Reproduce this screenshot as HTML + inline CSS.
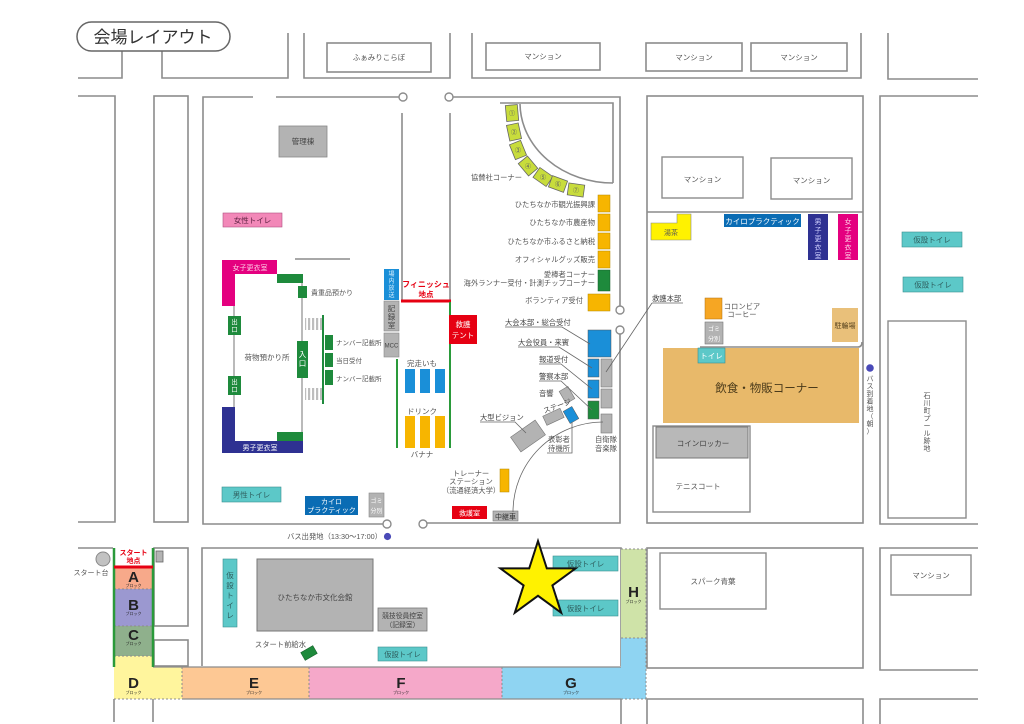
<!DOCTYPE html>
<html><head><meta charset="utf-8">
<style>
html,body{margin:0;padding:0;background:#fff;}
svg{display:block;}
text{font-family:"Liberation Sans","Noto Sans CJK JP",sans-serif;}
</style></head><body>
<svg width="1024" height="724" viewBox="0 0 1024 724" xmlns="http://www.w3.org/2000/svg">
<defs>
<pattern id="st" width="4" height="4" patternUnits="userSpaceOnUse"><rect width="2.2" height="4" fill="#bdbdbd"/></pattern>
</defs>
<rect width="1024" height="724" fill="#fff"/>

<!-- ===== roads / block outlines ===== -->
<g fill="none" stroke="#8c8c8c" stroke-width="1.6">
<path d="M78,78 H122 V51"/>
<path d="M162,51 V78 H288 V33"/>
<path d="M304,33 V78 H450 V33"/>
<rect x="327" y="43" width="104" height="29"/>
<path d="M472,33 V78 H861 V33"/>
<rect x="486" y="43" width="114" height="27"/>
<rect x="646" y="43" width="96" height="28"/>
<rect x="751" y="43" width="96" height="28"/>
<path d="M888,33 V79 H978"/>

<path d="M78,96 H115 V522 H78"/>
<rect x="154" y="96" width="34" height="426"/>
<path d="M253,97 H203 V524 H383"/>
<path d="M276,97 H399"/>
<path d="M453,97 H620 V306"/>
<path d="M620,334 V523 H427"/>
<path d="M402,113 V301"/>
<path d="M450,113 V302"/>
<path d="M500,103 H613 V183"/>
<path d="M520,104 A93,80 0 0 0 613,183"/>

<rect x="647" y="96" width="216" height="427"/>
<path d="M647,212 H863"/>
<path d="M978,96 H880 V524 H978"/>

<path d="M78,548 H113"/>
<rect x="154" y="548" width="34" height="78"/>
<rect x="154" y="640" width="34" height="26"/>
<path d="M202,666 V548 H621 V666"/>
<rect x="647" y="548" width="216" height="120"/>
<path d="M978,548 H880 V670 H978"/>
<path d="M114,699 V722 M153,699 V722 M621,699 V724 M647,724 V699 H863 V724 M880,724 V699 H978"/>

<path d="M700,347 H858 Q862,347 862,342"/>
</g>
<g fill="#fff" stroke="#8c8c8c" stroke-width="1.4">
<circle cx="403" cy="97" r="4"/><circle cx="449" cy="97" r="4"/>
<circle cx="620" cy="310" r="4"/><circle cx="620" cy="330" r="4"/>
<circle cx="387" cy="524" r="4"/><circle cx="423" cy="524" r="4"/>
</g>

<!-- ===== title ===== -->
<rect x="77" y="22" width="153" height="29" rx="14.5" fill="#fff" stroke="#666" stroke-width="1.5"/>
<text x="153" y="43" font-size="17" fill="#333" text-anchor="middle">会場レイアウト</text>

<g font-size="7.5" fill="#555" text-anchor="middle">
<text x="379" y="60">ふぁみりこらぼ</text>
<text x="543" y="59">マンション</text>
<text x="694" y="60">マンション</text>
<text x="799" y="60">マンション</text>
</g>

<!-- ===== left area ===== -->
<rect x="279" y="126" width="48" height="31" fill="#b3b3b3" stroke="#888" stroke-width="0.8"/>
<text x="303" y="144" font-size="7.5" fill="#444" text-anchor="middle">管理棟</text>
<rect x="223" y="213" width="59" height="14" fill="#f288b8" stroke="#b05080" stroke-width="0.6"/>
<text x="252.5" y="223" font-size="7.5" fill="#5a2040" text-anchor="middle">女性トイレ</text>

<line x1="295" y1="259" x2="350" y2="259" stroke="#8c8c8c" stroke-width="1.4"/>
<path d="M222,260 H277 V274 H235 V306 H222 Z" fill="#e4007f"/>
<text x="250" y="270" font-size="7" fill="#ffd0e8" text-anchor="middle">女子更衣室</text>
<rect x="277" y="274" width="26" height="9" fill="#1e8a3c"/>
<line x1="234" y1="306" x2="234" y2="407" stroke="#8c8c8c" stroke-width="1.2"/>
<line x1="302" y1="283" x2="302" y2="432" stroke="#8c8c8c" stroke-width="1.2"/>
<rect x="298" y="286" width="9" height="12" fill="#1e8a3c"/>
<text x="311" y="295" font-size="7" fill="#555">貴重品預かり</text>
<rect x="228" y="316" width="13" height="19" fill="#1e8a3c"/>
<text x="234.5" y="324" font-size="6.5" fill="#fff" text-anchor="middle"><tspan x="234.5">出</tspan><tspan x="234.5" dy="7.5">口</tspan></text>
<rect x="228" y="376" width="13" height="19" fill="#1e8a3c"/>
<text x="234.5" y="384" font-size="6.5" fill="#fff" text-anchor="middle"><tspan x="234.5">出</tspan><tspan x="234.5" dy="7.5">口</tspan></text>
<text x="267" y="360" font-size="7.5" fill="#555" text-anchor="middle">荷物預かり所</text>
<rect x="297" y="341" width="11" height="37" fill="#1e8a3c"/>
<text x="302.5" y="357" font-size="7.5" fill="#fff" text-anchor="middle"><tspan x="302.5">入</tspan><tspan x="302.5" dy="9">口</tspan></text>
<rect x="305" y="318" width="17" height="12" fill="url(#st)"/>
<rect x="305" y="388" width="17" height="12" fill="url(#st)"/>
<line x1="323" y1="315" x2="323" y2="404" stroke="#1e8a3c" stroke-width="2"/>
<rect x="325" y="335" width="8" height="15" fill="#1e8a3c"/>
<rect x="325" y="353" width="8" height="14" fill="#1e8a3c"/>
<rect x="325" y="370" width="8" height="15" fill="#1e8a3c"/>
<g font-size="6.5" fill="#555">
<text x="336" y="345">ナンバー記載所</text>
<text x="336" y="363">当日受付</text>
<text x="336" y="381">ナンバー記載所</text>
</g>
<path d="M222,407 H235 V441 H303 V453 H222 Z" fill="#2e3192"/>
<rect x="277" y="432" width="26" height="9" fill="#1e8a3c"/>
<text x="260" y="450" font-size="7" fill="#fff" text-anchor="middle">男子更衣室</text>

<rect x="222" y="487" width="59" height="15" fill="#5cc8c8" stroke="#3a8f8f" stroke-width="0.6"/>
<text x="251.5" y="497.5" font-size="7.5" fill="#2f5f5f" text-anchor="middle">男性トイレ</text>
<rect x="305" y="496" width="53" height="19" fill="#0a6cb4"/>
<text x="331.5" y="504" font-size="7" fill="#fff" text-anchor="middle">カイロ</text>
<text x="331.5" y="512.5" font-size="7" fill="#fff" text-anchor="middle">プラクティック</text>
<rect x="369" y="493" width="15" height="24" fill="#b3b3b3" stroke="#888" stroke-width="0.6"/>
<text x="376.5" y="503" font-size="6" fill="#fff" text-anchor="middle">ゴミ</text>
<text x="376.5" y="513" font-size="6" fill="#fff" text-anchor="middle">分別</text>

<!-- ===== finish channel ===== -->
<rect x="384" y="269" width="15" height="31" fill="#1a8fd8"/>
<text font-size="6" fill="#d8f0ff" text-anchor="middle"><tspan x="391.5" y="276">場</tspan><tspan x="391.5" y="283">内</tspan><tspan x="391.5" y="290">放</tspan><tspan x="391.5" y="297">送</tspan></text>
<rect x="384" y="301" width="15" height="30" fill="#b3b3b3" stroke="#888" stroke-width="0.6"/>
<text font-size="7.5" fill="#444" text-anchor="middle"><tspan x="391.5" y="311">記</tspan><tspan x="391.5" y="319.5">録</tspan><tspan x="391.5" y="328">室</tspan></text>
<rect x="384" y="333" width="15" height="24" fill="#b3b3b3" stroke="#888" stroke-width="0.6"/>
<text x="391.5" y="347.5" font-size="6" fill="#444" text-anchor="middle">MCC</text>

<text x="426" y="287" font-size="8" font-weight="bold" fill="#e60012" text-anchor="middle">フィニッシュ</text>
<text x="426" y="297" font-size="7.5" font-weight="bold" fill="#e60012" text-anchor="middle">地点</text>
<line x1="401" y1="301" x2="451" y2="301" stroke="#e60012" stroke-width="3"/>
<line x1="450" y1="302" x2="450" y2="448" stroke="#2a9a3a" stroke-width="2"/>
<line x1="397" y1="359" x2="397" y2="448" stroke="#2a9a3a" stroke-width="2"/>
<rect x="449" y="315" width="28" height="29" fill="#e60012"/>
<text x="463" y="327" font-size="7.5" fill="#fff" text-anchor="middle">救護</text>
<text x="463" y="338" font-size="7.5" fill="#fff" text-anchor="middle">テント</text>

<text x="422" y="366" font-size="7.5" fill="#555" text-anchor="middle">完走いも</text>
<rect x="405" y="369" width="10" height="24" fill="#1a8fd8"/>
<rect x="420" y="369" width="10" height="24" fill="#1a8fd8"/>
<rect x="435" y="369" width="10" height="24" fill="#1a8fd8"/>
<text x="422" y="414" font-size="7.5" fill="#555" text-anchor="middle">ドリンク</text>
<rect x="405" y="416" width="10" height="32" fill="#f7b500"/>
<rect x="420" y="416" width="10" height="32" fill="#f7b500"/>
<rect x="435" y="416" width="10" height="32" fill="#f7b500"/>
<text x="422" y="457" font-size="7.5" fill="#555" text-anchor="middle">バナナ</text>

<!-- ===== sponsor corner ===== -->
<g fill="#c8dc3c" stroke="#666" stroke-width="0.8">
<rect x="506" y="105" width="12" height="16" transform="rotate(-5 512 113)"/>
<rect x="508" y="124" width="12" height="16" transform="rotate(-12 514 132)"/>
<rect x="512" y="142" width="12" height="16" transform="rotate(-22 518 150)"/>
<rect x="522" y="158" width="12" height="16" transform="rotate(-40 528 166)"/>
<rect x="537" y="169" width="12" height="16" transform="rotate(-55 543 177)"/>
<rect x="552" y="176" width="12" height="16" transform="rotate(-70 558 184)"/>
<rect x="570" y="182" width="12" height="16" transform="rotate(-82 576 190)"/>
</g>
<g font-size="6" fill="#556" text-anchor="middle">
<text x="512" y="115.5">①</text><text x="514" y="134.5">②</text><text x="518" y="152.5">③</text>
<text x="528" y="168.5">④</text><text x="543" y="179.5">⑤</text><text x="558" y="186.5">⑥</text><text x="576" y="192.5">⑦</text>
</g>
<g font-size="7.3" fill="#555" text-anchor="end">
<text x="522" y="180">協賛社コーナー</text>
<text x="595" y="207">ひたちなか市観光振興課</text>
<text x="595" y="225">ひたちなか市農産物</text>
<text x="595" y="244">ひたちなか市ふるさと納税</text>
<text x="595" y="262">オフィシャルグッズ販売</text>
<text x="595" y="277">愛棒者コーナー</text>
<text x="595" y="285.5">海外ランナー受付・計測チップコーナー</text>
<text x="583" y="303">ボランティア受付</text>
</g>
<g fill="#f7b500" stroke="#b58800" stroke-width="0.5">
<rect x="598" y="195" width="12" height="17"/>
<rect x="598" y="214" width="12" height="17"/>
<rect x="598" y="233" width="12" height="16"/>
<rect x="598" y="251" width="12" height="17"/>
<rect x="588" y="294" width="22" height="17"/>
</g>
<rect x="598" y="270" width="12" height="21" fill="#1e8a3c" stroke="#145c28" stroke-width="0.5"/>

<!-- ===== HQ area ===== -->
<rect x="588" y="330" width="23" height="27" fill="#1a8fd8" stroke="#555" stroke-width="0.5"/>
<rect x="588" y="359" width="11" height="18" fill="#1a8fd8" stroke="#555" stroke-width="0.5"/>
<rect x="588" y="380" width="11" height="18" fill="#1a8fd8" stroke="#555" stroke-width="0.5"/>
<rect x="588" y="401" width="11" height="18" fill="#1e8a3c" stroke="#555" stroke-width="0.5"/>
<g fill="#b3b3b3" stroke="#777" stroke-width="0.6">
<rect x="601" y="359" width="11" height="28"/>
<rect x="601" y="389" width="11" height="19"/>
<rect x="601" y="414" width="11" height="19"/>
<rect x="562" y="388" width="10" height="14" transform="rotate(-30 567 395)"/>
<rect x="544" y="412" width="19" height="10" transform="rotate(-25 553 417)"/>
<rect x="513" y="427" width="30" height="18" transform="rotate(-35 528 436)"/>
<rect x="493" y="511" width="25" height="10"/>
</g>
<rect x="566" y="408" width="10" height="14" fill="#1a8fd8" stroke="#555" stroke-width="0.5" transform="rotate(-30 571 415)"/>
<g stroke="#666" stroke-width="0.8" fill="none">
<path d="M505,327 H562 L590,344"/>
<path d="M518,347 H559 L592,368"/>
<path d="M539,364 H561 L592,389"/>
<path d="M539,381 H561 L592,410"/>
<path d="M652,303 H683 M652,303 L606,372"/>
<path d="M480,422 H515 L526,433"/>
<path d="M547,453 H572 V422"/>
<path d="M513,512 A90,90 0 0 1 603,422"/>
</g>
<g font-size="7.3" fill="#444">
<text x="505" y="325">大会本部・総合受付</text>
<text x="518" y="345">大会役員・来賓</text>
<text x="539" y="362">報道受付</text>
<text x="539" y="379">警察本部</text>
<text x="539" y="396">音響</text>
<text x="480" y="420">大型ビジョン</text>
<text x="652" y="301">救護本部</text>
</g>
<text x="543" y="412" font-size="7.3" fill="#444" transform="rotate(-20 548 409)">ステージ</text>
<g font-size="7.3" fill="#555" text-anchor="middle">
<text x="559" y="442">表彰者</text>
<text x="559" y="451">待機所</text>
<text x="606" y="442">自衛隊</text>
<text x="606" y="451">音楽隊</text>
<text x="471" y="476">トレーナー</text>
<text x="471" y="484">ステーション</text>
<text x="471" y="493">（流通経済大学）</text>
</g>
<rect x="500" y="469" width="9" height="23" fill="#f7b500" stroke="#b58800" stroke-width="0.5"/>
<rect x="452" y="506" width="35" height="13" fill="#e60012"/>
<text x="469.5" y="515.5" font-size="7" fill="#fff" text-anchor="middle">救護室</text>
<text x="505.5" y="519" font-size="7" fill="#333" text-anchor="middle">中継車</text>

<!-- ===== right block ===== -->
<rect x="662" y="157" width="81" height="41" fill="#fff" stroke="#8c8c8c" stroke-width="1.4"/>
<rect x="771" y="158" width="81" height="41" fill="#fff" stroke="#8c8c8c" stroke-width="1.4"/>
<text x="702.5" y="182" font-size="7.5" fill="#555" text-anchor="middle">マンション</text>
<text x="811.5" y="183" font-size="7.5" fill="#555" text-anchor="middle">マンション</text>
<path d="M651,223 H677 V214 H691 V240 H651 Z" fill="#fff200" stroke="#888" stroke-width="0.6"/>
<text x="671" y="235" font-size="7" fill="#555" text-anchor="middle">湯茶</text>
<rect x="724" y="214" width="77" height="13" fill="#0a6cb4"/>
<text x="762.5" y="224" font-size="7.5" fill="#fff" text-anchor="middle">カイロプラクティック</text>
<rect x="808" y="214" width="20" height="46" fill="#2e3192"/>
<text font-size="7" fill="#cfd0ff" text-anchor="middle"><tspan x="818" y="224">男</tspan><tspan x="818" y="232.5">子</tspan><tspan x="818" y="241">更</tspan><tspan x="818" y="249.5">衣</tspan><tspan x="818" y="258">室</tspan></text>
<rect x="838" y="214" width="20" height="46" fill="#e4007f"/>
<text font-size="7" fill="#ffd0e8" text-anchor="middle"><tspan x="848" y="224">女</tspan><tspan x="848" y="232.5">子</tspan><tspan x="848" y="241">更</tspan><tspan x="848" y="249.5">衣</tspan><tspan x="848" y="258">室</tspan></text>

<rect x="705" y="298" width="17" height="21" fill="#f6a623" stroke="#b07010" stroke-width="0.5"/>
<text x="742" y="309" font-size="7.3" fill="#555" text-anchor="middle">コロンビア</text>
<text x="742" y="317" font-size="7.3" fill="#555" text-anchor="middle">コーヒー</text>
<rect x="705" y="322" width="18" height="22" fill="#b3b3b3" stroke="#777" stroke-width="0.6"/>
<text x="714" y="331" font-size="6" fill="#fff" text-anchor="middle">ゴミ</text>
<text x="714" y="341" font-size="6" fill="#fff" text-anchor="middle">分別</text>
<rect x="832" y="308" width="26" height="34" fill="#e9c07a"/>
<text x="845" y="328" font-size="7" fill="#5a4520" text-anchor="middle">駐輪場</text>
<rect x="663" y="348" width="196" height="75" fill="#e8b96a"/>
<rect x="698" y="348" width="27" height="15" fill="#5cc8c8" stroke="#3a8f8f" stroke-width="0.6"/>
<text x="711.5" y="358.5" font-size="7.5" fill="#fff" text-anchor="middle">トイレ</text>
<text x="767" y="392" font-size="11.5" fill="#4a3a1a" text-anchor="middle">飲食・物販コーナー</text>
<rect x="653" y="426" width="97" height="86" fill="#fff" stroke="#8c8c8c" stroke-width="1.4"/>
<rect x="656" y="427" width="92" height="31" fill="#b8b8b8" stroke="#777" stroke-width="1"/>
<text x="703" y="446" font-size="7.5" fill="#444" text-anchor="middle">コインロッカー</text>
<text x="698" y="489" font-size="7.5" fill="#555" text-anchor="middle">テニスコート</text>

<circle cx="870" cy="368" r="3.8" fill="#4a4ab8"/>
<text font-size="7" fill="#555" text-anchor="middle"><tspan x="870" y="381">バ</tspan><tspan x="870" y="388.5">ス</tspan><tspan x="870" y="396">到</tspan><tspan x="870" y="403.5">着</tspan><tspan x="870" y="411">地</tspan><tspan x="870" y="418.5">（</tspan><tspan x="870" y="426">朝</tspan><tspan x="870" y="433.5">）</tspan></text>

<rect x="902" y="232" width="60" height="15" fill="#5cc8c8" stroke="#3a8f8f" stroke-width="0.6"/>
<text x="932" y="242.5" font-size="7.5" fill="#2f5f5f" text-anchor="middle">仮設トイレ</text>
<rect x="903" y="277" width="60" height="15" fill="#5cc8c8" stroke="#3a8f8f" stroke-width="0.6"/>
<text x="933" y="287.5" font-size="7.5" fill="#2f5f5f" text-anchor="middle">仮設トイレ</text>
<rect x="888" y="321" width="78" height="197" fill="#fff" stroke="#8c8c8c" stroke-width="1.4"/>
<text font-size="7" fill="#555" text-anchor="middle"><tspan x="927" y="398">石</tspan><tspan x="927" y="405.5">川</tspan><tspan x="927" y="413">町</tspan><tspan x="927" y="420.5">プ</tspan><tspan x="927" y="428">ー</tspan><tspan x="927" y="435.5">ル</tspan><tspan x="927" y="443">跡</tspan><tspan x="927" y="450.5">地</tspan></text>

<!-- ===== bottom section ===== -->
<text x="382" y="539" font-size="7.3" fill="#555" text-anchor="end">バス出発地（13:30〜17:00）</text>
<circle cx="387.5" cy="536.5" r="3.6" fill="#4a4ab8"/>

<!-- course blocks -->
<rect x="114" y="567" width="39" height="22" fill="#f7a98a"/>
<rect x="114" y="589" width="39" height="37" fill="#9b98d0"/>
<rect x="114" y="626" width="39" height="30" fill="#8fb08c"/>
<rect x="114" y="656" width="39" height="12" fill="#fff59d"/>
<rect x="114" y="667" width="68" height="32" fill="#fff59d"/>
<rect x="182" y="667" width="127" height="32" fill="#fdc894"/>
<rect x="309" y="667" width="193" height="32" fill="#f5a8c9"/>
<rect x="502" y="667" width="144" height="32" fill="#8fd4f2"/>
<rect x="621" y="638" width="25" height="30" fill="#8fd4f2"/>
<rect x="621" y="549" width="25" height="89" fill="#cfe3a8"/>
<g stroke="#8c8c8c" stroke-width="1" stroke-dasharray="2,2" fill="none">
<path d="M114,589 H153 M114,626 H153 M114,656 H153"/>
<path d="M182,667 V699 M309,667 V699 M502,667 V699"/>
<path d="M621,549 H646 M621,638 H646 M646,549 V699 M621,699 H646"/>
<path d="M114,699 H182"/>
</g>
<g stroke="#8c8c8c" stroke-width="1.2" fill="none">
<path d="M153,667 H621 M182,699 H621"/>
</g>
<line x1="114" y1="548" x2="114" y2="667" stroke="#2a9a3a" stroke-width="2.5"/>
<line x1="153" y1="548" x2="153" y2="667" stroke="#2a9a3a" stroke-width="2.5"/>
<line x1="114" y1="567" x2="153" y2="567" stroke="#e60012" stroke-width="3"/>
<text x="133.5" y="555" font-size="7" font-weight="bold" fill="#e60012" text-anchor="middle">スタート</text>
<text x="133.5" y="563" font-size="7" font-weight="bold" fill="#e60012" text-anchor="middle">地点</text>
<rect x="156" y="551" width="7" height="11" fill="#b3b3b3" stroke="#666" stroke-width="0.8"/>
<circle cx="103" cy="559" r="7" fill="#c2c2c2" stroke="#888" stroke-width="1"/>
<text x="91" y="575" font-size="7" fill="#555" text-anchor="middle">スタート台</text>

<g font-weight="bold" fill="#222" text-anchor="middle" font-size="15">
<text x="133.5" y="582">A</text>
<text x="133.5" y="610">B</text>
<text x="133.5" y="640">C</text>
<text x="133.5" y="688">D</text>
<text x="254" y="688">E</text>
<text x="401" y="688">F</text>
<text x="571" y="688">G</text>
<text x="633.5" y="597">H</text>
</g>
<g font-size="4" fill="#222" text-anchor="middle">
<text x="133.5" y="587">ブロック</text>
<text x="133.5" y="615">ブロック</text>
<text x="133.5" y="645">ブロック</text>
<text x="133.5" y="694">ブロック</text>
<text x="254" y="694">ブロック</text>
<text x="401" y="694">ブロック</text>
<text x="571" y="694">ブロック</text>
<text x="633.5" y="603">ブロック</text>
</g>

<!-- culture hall block -->
<rect x="223" y="559" width="14" height="68" fill="#5cc8c8" stroke="#3a8f8f" stroke-width="0.6"/>
<text font-size="7.5" fill="#2f5f5f" text-anchor="middle"><tspan x="230" y="578">仮</tspan><tspan x="230" y="588">設</tspan><tspan x="230" y="598">ト</tspan><tspan x="230" y="608">イ</tspan><tspan x="230" y="618">レ</tspan></text>
<rect x="257" y="559" width="116" height="72" fill="#b3b3b3" stroke="#777" stroke-width="1"/>
<text x="315" y="600" font-size="7.5" fill="#444" text-anchor="middle">ひたちなか市文化会館</text>
<rect x="378" y="608" width="49" height="23" fill="#b3b3b3" stroke="#777" stroke-width="0.8"/>
<text x="402.5" y="618" font-size="6.8" fill="#444" text-anchor="middle">競技役員控室</text>
<text x="402.5" y="627" font-size="6.8" fill="#444" text-anchor="middle">（記録室）</text>
<rect x="378" y="647" width="49" height="14" fill="#5cc8c8" stroke="#3a8f8f" stroke-width="0.6"/>
<text x="402.5" y="657" font-size="7.3" fill="#2f5f5f" text-anchor="middle">仮設トイレ</text>
<text x="306" y="647" font-size="7.3" fill="#555" text-anchor="end">スタート前給水</text>
<rect x="302" y="648.5" width="14" height="9" fill="#1e8a3c" stroke="#145c28" stroke-width="0.5" transform="rotate(-30 309 653)"/>

<rect x="553" y="556" width="65" height="15" fill="#5cc8c8" stroke="#3a8f8f" stroke-width="0.6"/>
<text x="585.5" y="566.5" font-size="7.5" fill="#2f5f5f" text-anchor="middle">仮設トイレ</text>
<rect x="553" y="600" width="65" height="16" fill="#5cc8c8" stroke="#3a8f8f" stroke-width="0.6"/>
<text x="585.5" y="611" font-size="7.5" fill="#2f5f5f" text-anchor="middle">仮設トイレ</text>

<polygon points="538,541 546.8,568.4 575.6,568.4 552.4,585.4 561.2,612.8 538,595.8 514.8,612.8 523.6,585.4 500.4,568.4 529.2,568.4" fill="#fff200" stroke="#111" stroke-width="2" stroke-linejoin="miter"/>

<rect x="660" y="553" width="106" height="56" fill="#fff" stroke="#8c8c8c" stroke-width="1.4"/>
<text x="713" y="584" font-size="7.5" fill="#555" text-anchor="middle">スパーク青葉</text>
<rect x="891" y="555" width="80" height="40" fill="#fff" stroke="#8c8c8c" stroke-width="1.4"/>
<text x="931" y="578" font-size="7.5" fill="#555" text-anchor="middle">マンション</text>
</svg>
</body></html>
